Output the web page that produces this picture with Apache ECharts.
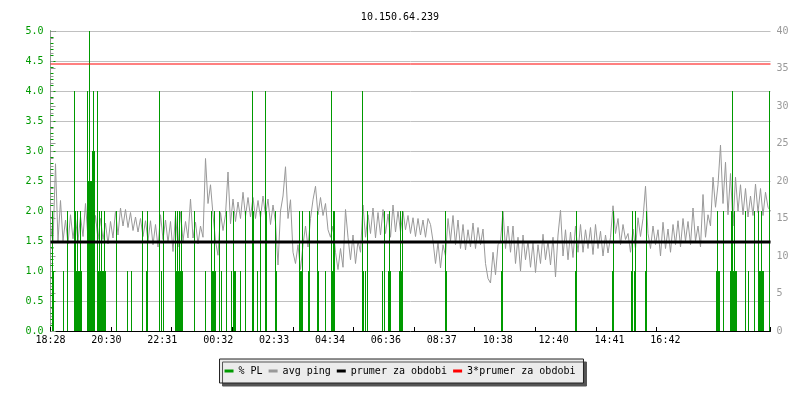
<!DOCTYPE html>
<html><head><meta charset="utf-8">
<script src="https://cdn.jsdelivr.net/npm/echarts@6.0.0/dist/echarts.min.js"></script>
<style>html,body{margin:0;padding:0;background:#fff}#c{width:800px;height:400px}</style>
</head><body><div id="c"></div>
<script>
// ---- data ----
const chartTitle = '10.150.64.239';
const timeLabels = ['18:28','20:30','22:31','00:32','02:33','04:34','06:36','08:37','10:38','12:40','14:41','16:42'];
const slotCount = 720;        // sample columns across the period
const labelStep = 55.9;       // slots between time labels
const tickStep = 60.6;        // slots between x tick marks
const pingStep = 2.5;         // slots between avg ping samples
const pingValues = [
 14.0,11.8,22.3,12.0, 17.4,12.0,14.8,11.6, 15.5,12.3,15.0,12.0, 15.3,12.6,17.0,12.3,
 16.8,12.5,15.4,12.2, 15.0,12.2,14.4,11.6, 14.6,12.4,16.0,12.8, 16.4,14.0,16.2,13.8,
 15.8,13.4,15.2,13.2, 15.0,12.6,14.7,12.0, 14.7,11.5,14.2,11.2, 15.5,12.2,14.8,11.8,
 14.6,10.6,15.5,11.2, 15.9,12.0,14.6,12.4, 17.6,12.4,14.5,11.6, 14.0,12.5,23.0,17.0,
 19.5,15.5,12.0,10.1, 15.8,13.4,15.5,21.2, 14.3,17.6,14.6,17.2, 15.0,18.5,15.3,17.8,
 15.2,17.8,15.0,17.4, 15.1,18.0,15.4,17.6, 14.2,16.8,14.5,8.8, 16.0,18.0,21.9,15.0,
 17.5,10.5,9.0,11.5, 8.2,11.5,14.0,11.2, 15.0,17.5,19.3,15.5, 17.8,15.4,17.0,13.5,
 12.5,14.0,10.5,8.2, 11.0,8.5,16.2,12.5, 9.5,12.8,9.0,12.0, 10.5,16.8,12.5,15.5,
 13.0,16.4,12.4,15.8, 12.8,16.2,13.0,15.6, 12.5,16.8,13.2,16.0, 13.2,16.0,13.5,15.4,
 13.0,15.1,12.6,15.0, 12.8,14.8,12.5,15.0, 14.2,12.0,9.0,11.8, 8.4,11.5,10.0,15.0,
 12.0,15.4,11.5,14.8, 11.0,14.2,10.8,13.5, 11.2,14.4,11.0,13.8, 11.5,13.6,9.0,7.0,
 6.4,10.5,7.5,11.5, 12.0,16.0,11.0,14.0, 10.5,14.0,9.0,12.5, 8.0,12.8,9.5,12.0,
 8.5,11.8,7.8,11.5, 9.0,12.9,9.5,12.0, 8.8,12.5,7.2,12.8, 16.1,10.0,13.5,9.5,
 13.2,9.8,14.0,10.5, 14.2,10.5,13.5,11.0, 13.8,10.2,14.2,11.0, 13.3,10.0,12.8,10.4,
 12.5,16.7,13.0,15.0, 11.5,14.2,12.2,13.0, 10.5,13.6,11.0,15.1, 12.6,15.0,19.3,13.0,
 11.0,14.0,11.5,13.5, 10.0,14.5,11.0,13.6, 10.5,14.2,11.5,14.7, 11.2,15.0,12.0,14.6,
 11.5,16.4,12.0,14.0, 11.2,18.2,12.5,15.5, 14.0,20.5,16.5,19.5, 24.8,17.0,22.5,15.5,
 21.0,14.0,20.5,16.0, 19.5,15.5,19.0,15.2, 18.0,15.4,19.6,15.8, 19.0,15.4,18.5,16.5,
 16.0
];
const plSlots = [
 2,3,13,17,24,25,26,27,28,29,30,31,37,38,39,40,41,42,43,44,
 47,48,49,50,51,52,53,54,55,66,77,81,92,96,97,109,111,113,
 125,126,127,128,129,130,131,132,144,155,161,162,163,164,165,169,171,176,
 181,183,184,185,190,195,202,203,207,210,215,216,225,226,
 249,250,251,252,258,259,267,268,275,281,282,283,284,
 312,313,315,317,332,334,338,339,340,349,350,351,352,
 395,396,451,452,525,526,562,563,581,582,584,585,595,596,
 666,667,668,669,673,680,681,682,683,684,685,686,695,698,704,
 708,709,710,711,712,713,719
];
const plValues = [
 2,1,1,2,4,2,1,2,1,1,2,1,4,2.5,5,2.5,2.5,3,4,3,
 4,1,2,1,2,1,1,2,1,2,1,1,2,1,2,4,1,2,
 2,1,2,1,2,1,2,1,2,1,2,1,1,2,1,2,1,2,
 1,2,1,1,1,2,4,2,1,2,4,2,2,1,
 2,1,1,2,1,2,2,1,1,4,1,2,2,
 4,1,1,2,1,2,1,2,1,1,2,1,2,
 2,1,1,2,1,2,1,2,1,2,1,2,1,2,
 1,2,1,1,2,1,2,4,1,2,1,1,2,1,2,
 2,1,1,2,1,1,4
];
const avgPing = 11.87;
const avgPing3 = 35.6;
const seriesNames = ['% PL','avg ping','prumer za obdobi','3*prumer za obdobi'];

// ---- chart ----
const mono = 'DejaVu Sans Mono';
const GREEN = '#009a00', GRAY = '#999999';
const chart = echarts.init(document.getElementById('c'), null, {renderer:'canvas'});
chart.setOption({
  animation:false,
  backgroundColor:'#ffffff',
  title:{text:chartTitle, left:'center', top:7,
    textStyle:{fontFamily:mono, fontSize:10, fontWeight:'normal', color:'#000'}},
  legend:{left:'center', top:359, icon:'rect', itemWidth:9, itemHeight:3, itemGap:6,
    padding:[7,8,7,5], backgroundColor:'#ececec', borderColor:'#222', borderWidth:1,
    shadowColor:'#555', shadowOffsetX:3, shadowOffsetY:3, shadowBlur:0,
    textStyle:{fontFamily:mono, fontSize:10, color:'#000'}, data:seriesNames},
  grid:{left:50.5, right:29.5, top:31, bottom:69, containLabel:false},
  xAxis:[
    {type:'value', min:0, max:slotCount, interval:labelStep, position:'bottom',
     axisLine:{show:true, lineStyle:{color:'#000', width:1}}, axisTick:{show:false},
     splitLine:{show:false}, minorTick:{show:false},
     axisLabel:{color:'#000', fontFamily:mono, fontSize:10, margin:4, showMaxLabel:false,
       formatter:function(v){const i=Math.round(v/labelStep);return (Math.abs(v-i*labelStep)<0.01 && timeLabels[i])?timeLabels[i]:'';}}},
    {type:'value', min:0, max:slotCount, interval:tickStep, position:'top', offset:-300,
     axisLine:{show:false}, axisTick:{show:true, length:4, lineStyle:{color:'#000'}},
     axisLabel:{show:false}, splitLine:{show:false}}
  ],
  yAxis:[
    {type:'value', min:0, max:5, interval:0.5, position:'left',
     axisLine:{show:true, lineStyle:{color:GREEN}},
     axisTick:{show:true, inside:true, length:5, lineStyle:{color:GREEN}},
     minorTick:{show:true, splitNumber:5, length:3, lineStyle:{color:GREEN}},
     splitLine:{show:true, lineStyle:{color:'#c0c0c0', width:1}},
     axisLabel:{color:GREEN, fontFamily:mono, fontSize:10, margin:7, formatter:function(v){return v.toFixed(1);}}},
    {type:'value', min:0, max:40, interval:5, position:'right',
     axisLine:{show:true, lineStyle:{color:GRAY}},
     axisTick:{show:true, inside:false, length:5, lineStyle:{color:GRAY}},
     minorTick:{show:true, splitNumber:5, length:3, lineStyle:{color:GRAY}},
     splitLine:{show:false},
     axisLabel:{color:GRAY, fontFamily:mono, fontSize:10, margin:6}}
  ],
  series:[
    {name:seriesNames[0], type:'bar', xAxisIndex:0, yAxisIndex:0, z:3, barWidth:1,
     itemStyle:{color:GREEN}, emphasis:{disabled:true},
     data:plSlots.map(function(s,i){return [s, plValues[i]];})},
    {name:seriesNames[1], type:'line', xAxisIndex:0, yAxisIndex:1, z:2, symbol:'none', showSymbol:false,
     lineStyle:{color:GRAY, width:1}, itemStyle:{color:GRAY}, emphasis:{disabled:true},
     data:pingValues.map(function(v,i){return [i*pingStep, v];})},
    {name:seriesNames[2], type:'line', xAxisIndex:0, yAxisIndex:1, z:4, symbol:'none',
     lineStyle:{color:'#000', width:3}, itemStyle:{color:'#000'}, emphasis:{disabled:true},
     data:[[0,avgPing],[slotCount,avgPing]]},
    {name:seriesNames[3], type:'line', xAxisIndex:0, yAxisIndex:1, z:4, symbol:'none',
     lineStyle:{color:'#ff0000', width:1}, itemStyle:{color:'#ff0000'}, emphasis:{disabled:true},
     data:[[0,avgPing3],[slotCount,avgPing3]]}
  ]
});
</script>
</body></html>
